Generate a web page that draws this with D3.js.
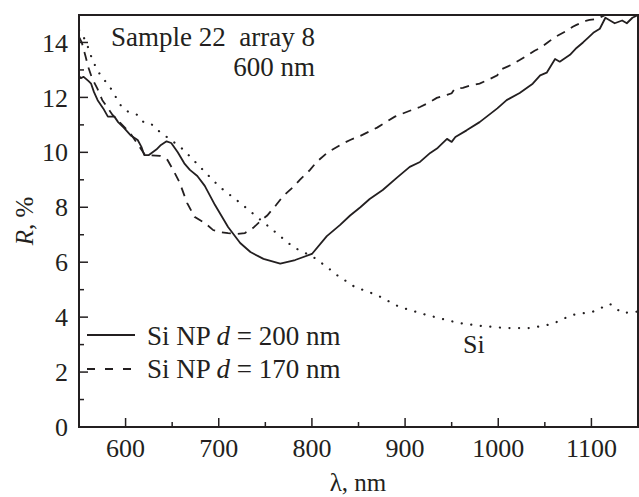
<!DOCTYPE html>
<html><head><meta charset="utf-8">
<script src="https://cdn.jsdelivr.net/npm/d3@7/dist/d3.min.js"></script>
<style>
html,body{margin:0;padding:0;background:#fff;}
</style></head>
<body><svg id="c" width="639" height="497"></svg>
<script>
// ---- data ----
const xTicks = [600, 700, 800, 900, 1000, 1100];
const yTicks = [0, 2, 4, 6, 8, 10, 12, 14];
const seriesNames = ["Si NP d = 200 nm", "Si NP d = 170 nm", "Si"];

const np200Lambda = [550,552,555,560,563,566,570,576,581,588,592,598,606,613,617,620,625,633,638,644,649,656,663,669,677,685,696,710,723,734,748,766,782,800,816,830,841,852,862,876,891,905,916,927,935,945,950,954,966,980,999,1009,1023,1037,1045,1052,1061,1066,1077,1084,1091,1096,1102,1109,1115,1120,1125,1133,1138,1144,1150];
const np200R = [12.78,12.7,12.75,12.6,12.5,12.2,11.9,11.6,11.3,11.3,11.1,10.9,10.6,10.45,10.2,9.9,9.9,10.1,10.27,10.4,10.34,10.0,9.6,9.36,9.14,8.78,8.08,7.28,6.7,6.37,6.12,5.95,6.08,6.3,6.95,7.35,7.7,8.0,8.3,8.63,9.07,9.47,9.65,9.98,10.16,10.49,10.38,10.56,10.8,11.1,11.6,11.9,12.16,12.5,12.8,12.9,13.4,13.3,13.55,13.8,14.0,14.16,14.35,14.5,14.9,14.8,14.7,14.8,14.7,14.9,15.0];

const np170Lambda = [550,553,557,560,564,570,575,586,605,621,637,645,651,658,666,674,685,694,701,710,720,728,737,746,752,762,769,780,787,798,805,817,832,841,852,870,878,889,907,916,925,934,945,950,953,962,972,980,989,999,1002,1015,1023,1032,1039,1045,1053,1061,1072,1080,1084,1095,1098,1106,1115,1150];
const np170R = [14.2,14.0,13.5,13.1,12.7,12.3,11.9,11.36,10.7,9.9,9.87,9.72,9.36,8.9,8.16,7.65,7.43,7.17,7.1,7.06,7.03,7.06,7.25,7.54,7.7,8.1,8.4,8.74,9.0,9.36,9.65,10.0,10.3,10.45,10.6,10.9,11.07,11.3,11.54,11.65,11.8,11.98,12.09,12.15,12.3,12.35,12.45,12.5,12.64,12.8,13.0,13.2,13.36,13.55,13.7,13.8,14.0,14.2,14.4,14.57,14.64,14.8,14.82,14.86,15.0,15.0];

const siLambda = [550,554,560,563,568,574,582,588,595,603,613,620,629,638,647,662,683,701,723,741,762,780,801,816,827,846,870,894,923,957,982,1009,1034,1058,1079,1101,1120,1133,1145,1150];
const siR = [14.45,14.27,13.8,13.5,13.1,12.75,12.45,12.1,11.7,11.47,11.36,11.07,11.0,10.7,10.5,10.1,9.36,8.74,8.16,7.65,7.06,6.55,6.2,5.83,5.53,5.1,4.8,4.37,4.08,3.79,3.68,3.6,3.6,3.75,4.08,4.19,4.48,4.15,4.19,4.2];

// ---- pick an installed serif font ----
function pickFont(cands) {
  const ctx = document.createElement("canvas").getContext("2d");
  const s = "Sample 22 array 8 Si NP 600 nm mwil";
  for (const c of cands) {
    let ok = false;
    for (const base of ["monospace", "sans-serif"]) {
      ctx.font = `40px ${base}`; const w0 = ctx.measureText(s).width;
      ctx.font = `40px "${c}", ${base}`; const w1 = ctx.measureText(s).width;
      if (Math.abs(w1 - w0) > 0.5) ok = true;
    }
    if (ok) return `"${c}", serif`;
  }
  return "serif";
}
const FONT = pickFont(["Liberation Serif", "Tinos", "Times New Roman", "Nimbus Roman", "FreeSerif", "DejaVu Serif", "Noto Serif"]);

// ---- layout ----
const svg = d3.select("#c").attr("font-family", FONT);
const L = 79, R = 638, T = 15, B = 427;
const x = d3.scaleLinear().domain([550, 1150]).range([L, R]);
const y = d3.scaleLinear().domain([0, 15]).range([B, T]);
const ink = "#231f20";

svg.append("defs").append("clipPath").attr("id","clip")
  .append("rect").attr("x",L).attr("y",T).attr("width",R-L).attr("height",B-T);

// ticks (inward)
const xMinor = d3.range(550, 1151, 50);
const yMinor = d3.range(0, 16, 1);
const tg = svg.append("g").attr("stroke", ink).attr("stroke-width", 1.5);
xMinor.forEach(v => {
  const major = xTicks.includes(v);
  tg.append("line").attr("x1", x(v)).attr("x2", x(v)).attr("y1", B).attr("y2", B - (major ? 9 : 5));
});
yMinor.forEach(v => {
  const major = yTicks.includes(v);
  tg.append("line").attr("y1", y(v)).attr("y2", y(v)).attr("x1", L).attr("x2", L + (major ? 9 : 5));
});

const txt = (sel) => sel.attr("fill", ink).attr("font-family", FONT);

// tick labels
svg.append("g").selectAll("text").data(xTicks).join("text").call(txt)
  .attr("x", d => x(d)).attr("y", 457).attr("text-anchor", "middle")
  .attr("font-size", 26).text(d => d);
svg.append("g").selectAll("text").data(yTicks).join("text").call(txt)
  .attr("x", 68).attr("y", d => y(d)).attr("dy", "0.35em").attr("text-anchor", "end")
  .attr("font-size", 26).text(d => d);

// lines
const line = (xs, ys) => d3.line().x((d, i) => x(xs[i])).y((d, i) => y(ys[i]))(xs);
const lg = svg.append("g").attr("clip-path", "url(#clip)").attr("fill", "none").attr("stroke", ink);
lg.append("path").attr("d", line(siLambda, siR)).attr("stroke-width", 2.2)
  .attr("stroke-linecap", "round").attr("stroke-dasharray", "0.1,9.5");
lg.append("path").attr("d", line(np170Lambda, np170R)).attr("stroke-width", 1.8)
  .attr("stroke-dasharray", "9,7");
lg.append("path").attr("d", line(np200Lambda, np200R)).attr("stroke-width", 1.8)
  .attr("stroke-linejoin", "round");

// frame
svg.append("rect").attr("x", L).attr("y", T).attr("width", R - L).attr("height", B - T)
  .attr("fill", "none").attr("stroke", ink).attr("stroke-width", 2);

// axis titles
svg.append("text").call(txt).attr("x", 358).attr("y", 491).attr("text-anchor", "middle")
  .attr("font-size", 25).text("λ, nm");
const yl = svg.append("text").call(txt).attr("transform", "translate(33,221) rotate(-90)")
  .attr("text-anchor", "middle").attr("font-size", 25);
yl.append("tspan").attr("font-style", "italic").text("R");
yl.append("tspan").text(", %");

// annotation
svg.append("text").call(txt).attr("x", 315).attr("y", 46).attr("text-anchor", "end")
  .attr("font-size", 27).style("white-space", "pre").text("Sample 22  array 8");
svg.append("text").call(txt).attr("x", 315).attr("y", 76).attr("text-anchor", "end")
  .attr("font-size", 27).text("600 nm");
svg.append("text").call(txt).attr("x", 463).attr("y", 353).attr("font-size", 26).text(seriesNames[2]);

// legend
const legend = [
  {name: seriesNames[0], dash: null, y: 335, ty: 345},
  {name: seriesNames[1], dash: "8,10", y: 369, ty: 378}
];
legend.forEach(d => {
  const l = svg.append("line").attr("x1", 87).attr("x2", 135).attr("y1", d.y).attr("y2", d.y)
    .attr("stroke", ink).attr("stroke-width", 1.8);
  if (d.dash) l.attr("stroke-dasharray", d.dash);
  const parts = d.name.split(" d ");
  const t = svg.append("text").call(txt).attr("x", 147).attr("y", d.ty).attr("font-size", 27).style("white-space", "pre");
  t.append("tspan").text(parts[0] + " ");
  t.append("tspan").attr("font-style", "italic").text("d");
  t.append("tspan").text(" " + parts[1]);
});
</script></body></html>
